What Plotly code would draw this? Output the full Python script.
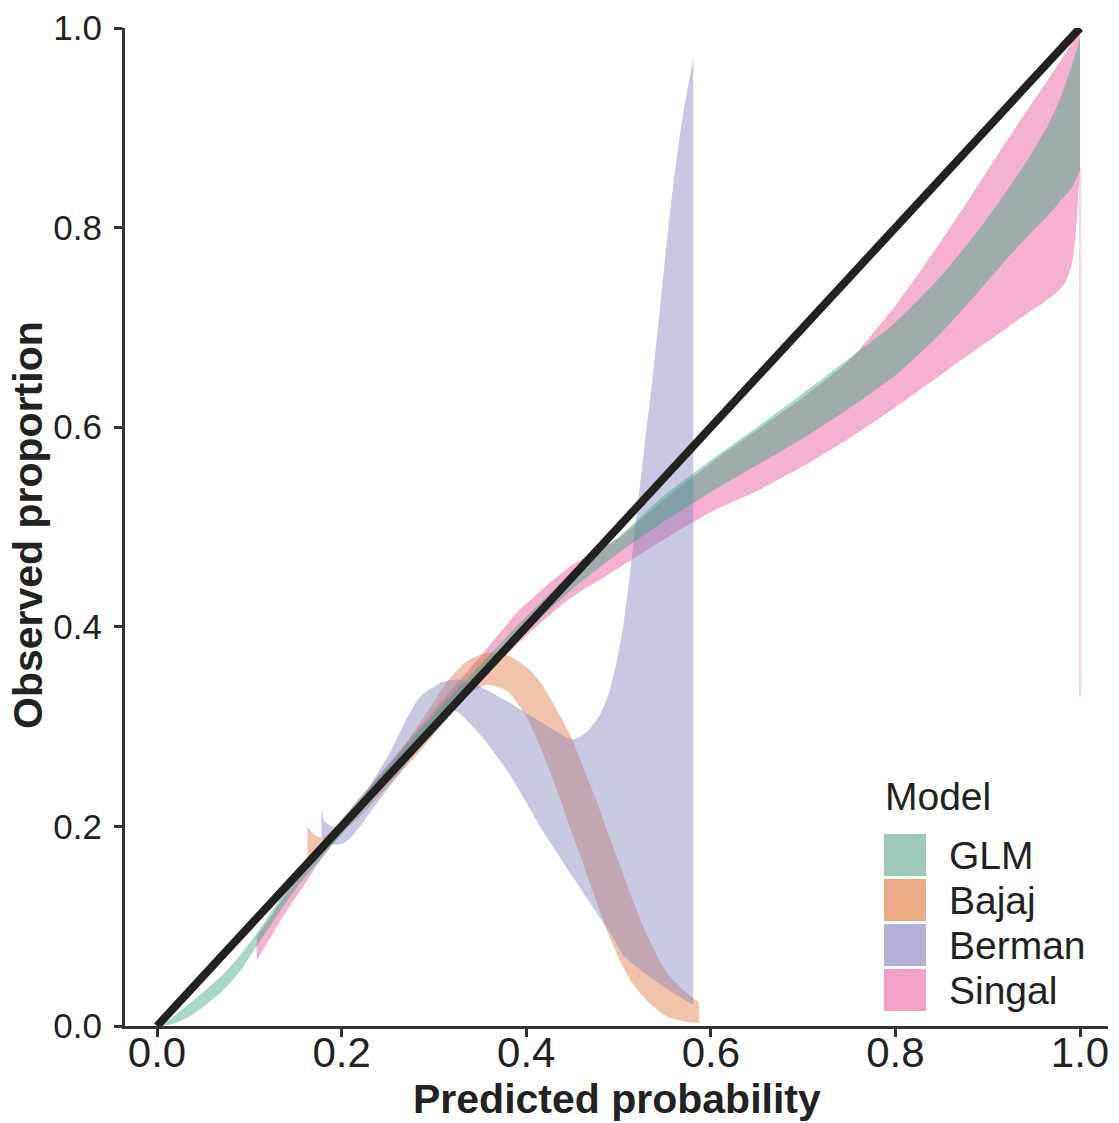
import plotly.graph_objects as go

# ---- calibration bands: predicted probability vs observed proportion ----
glm_x = [0.007, 0.02, 0.036, 0.054, 0.072, 0.09, 0.108, 0.126, 0.15, 0.2, 0.25, 0.3, 0.35, 0.4,
         0.45, 0.5, 0.55, 0.6, 0.65, 0.7, 0.75, 0.8, 0.85, 0.892, 0.92, 0.946, 0.965, 0.978, 0.991, 1.0]
glm_lo = [0.0, 0.003, 0.01, 0.022, 0.036, 0.055, 0.08, 0.105, 0.137, 0.192, 0.246, 0.297, 0.347, 0.395,
          0.438, 0.474, 0.506, 0.535, 0.562, 0.589, 0.619, 0.652, 0.695, 0.738, 0.768, 0.794, 0.812, 0.826, 0.84, 0.858]
glm_hi = [0.002, 0.011, 0.023, 0.037, 0.052, 0.071, 0.093, 0.117, 0.149, 0.206, 0.26, 0.312, 0.362, 0.41,
          0.455, 0.49, 0.532, 0.567, 0.6, 0.634, 0.669, 0.705, 0.752, 0.8, 0.836, 0.872, 0.902, 0.928, 0.962, 0.99]

bajaj_x = [0.163, 0.17, 0.178, 0.19, 0.2, 0.22, 0.25, 0.28, 0.3, 0.314, 0.335, 0.357, 0.379, 0.40,
           0.415, 0.43, 0.447, 0.458, 0.476, 0.49, 0.502, 0.515, 0.53, 0.545, 0.556, 0.575, 0.587]
bajaj_lo = [0.168, 0.172, 0.178, 0.186, 0.194, 0.21, 0.24, 0.27, 0.292, 0.308, 0.33, 0.342, 0.336, 0.31,
            0.28, 0.245, 0.2, 0.172, 0.125, 0.09, 0.065, 0.043, 0.026, 0.014, 0.008, 0.004, 0.003]
bajaj_hi = [0.200, 0.192, 0.189, 0.196, 0.205, 0.226, 0.258, 0.297, 0.325, 0.345, 0.365, 0.374, 0.372, 0.36,
            0.345, 0.322, 0.293, 0.268, 0.226, 0.19, 0.16, 0.127, 0.093, 0.065, 0.049, 0.032, 0.024]

berman_x = [0.178, 0.182, 0.19, 0.2, 0.21, 0.22, 0.234, 0.252, 0.27, 0.285, 0.307, 0.32, 0.328, 0.35,
            0.38, 0.415, 0.45, 0.465, 0.48, 0.49, 0.498, 0.505, 0.512, 0.52, 0.528, 0.537, 0.545,
            0.554, 0.563, 0.572, 0.581]
berman_lo = [0.19, 0.186, 0.182, 0.182, 0.189, 0.2, 0.218, 0.24, 0.262, 0.28, 0.305, 0.316, 0.313, 0.292,
             0.255, 0.2, 0.15, 0.129, 0.108, 0.095, 0.082, 0.071, 0.065, 0.059, 0.053, 0.047, 0.042,
             0.036, 0.031, 0.026, 0.021]
berman_hi = [0.216, 0.205, 0.200, 0.202, 0.21, 0.222, 0.246, 0.273, 0.307, 0.33, 0.344, 0.347, 0.347, 0.34,
             0.325, 0.305, 0.287, 0.294, 0.312, 0.335, 0.365, 0.4, 0.45, 0.515, 0.58, 0.65, 0.72,
             0.8, 0.87, 0.925, 0.97]

singal_x = [0.108, 0.125, 0.14, 0.16, 0.177, 0.2, 0.25, 0.3, 0.35, 0.393, 0.447, 0.502, 0.55, 0.6,
            0.65, 0.7, 0.75, 0.8, 0.85, 0.892, 0.92, 0.946, 0.965, 0.978,
            0.985, 0.991, 0.995, 0.998, 1.0]
singal_lo = [0.066, 0.092, 0.115, 0.142, 0.166, 0.195, 0.247, 0.297, 0.345, 0.385, 0.428, 0.46, 0.488, 0.515,
             0.536, 0.561, 0.589, 0.62, 0.653, 0.681, 0.699, 0.716, 0.728, 0.738,
             0.747, 0.763, 0.79, 0.83, 0.86]
singal_hi = [0.09, 0.112, 0.133, 0.158, 0.18, 0.207, 0.262, 0.316, 0.37, 0.417, 0.46, 0.49, 0.528, 0.564,
             0.597, 0.63, 0.667, 0.722, 0.787, 0.846, 0.886, 0.922, 0.948, 0.966,
             0.976, 0.985, 0.992, 0.997, 1.0]
# thin sliver of the Singal band at predicted probability 1
singal_tail_x = [1.0, 1.0]
singal_tail_y = [0.33, 0.86]

# perfect calibration reference
diag_x = [0.0, 1.0]
diag_y = [0.0, 1.0]

models = ["GLM", "Bajaj", "Berman", "Singal"]
band_fill = {
    "GLM": "rgba(44,166,122,0.42)",
    "Bajaj": "rgba(222,122,66,0.45)",
    "Berman": "rgba(133,133,188,0.45)",
    "Singal": "rgba(233,77,151,0.45)",
}
key_fill = {
    "GLM": "#9ccab6",
    "Bajaj": "#ecaa85",
    "Berman": "#b2b2d9",
    "Singal": "#f1a2c6",
}
bands = {
    "GLM": (glm_x, glm_lo, glm_hi),
    "Bajaj": (bajaj_x, bajaj_lo, bajaj_hi),
    "Berman": (berman_x, berman_lo, berman_hi),
    "Singal": (singal_x, singal_lo, singal_hi),
}

FONT = "Liberation Sans, Arial, Helvetica, sans-serif"
INK = "#222222"

fig = go.Figure()

# draw order: Singal, Bajaj, Berman, GLM (GLM ends up on top)
for name in ["Singal", "Bajaj", "Berman", "GLM"]:
    x, lo, hi = bands[name]
    fig.add_trace(go.Scatter(x=x, y=lo, mode="lines", line=dict(width=0, shape="spline", smoothing=0.6),
                             showlegend=False, hoverinfo="skip"))
    fig.add_trace(go.Scatter(x=x, y=hi, mode="lines", line=dict(width=0, shape="spline", smoothing=0.6),
                             fill="tonexty", fillcolor=band_fill[name], name=name,
                             showlegend=False, hoverinfo="skip"))
    if name == "Singal":
        fig.add_trace(go.Scatter(x=singal_tail_x, y=singal_tail_y, mode="lines",
                                 line=dict(width=2, color="rgba(233,77,151,0.25)"),
                                 showlegend=False, hoverinfo="skip"))

fig.add_trace(go.Scatter(x=diag_x, y=diag_y, mode="lines", line=dict(color=INK, width=8),
                         showlegend=False, hoverinfo="skip"))

# plot area in pixels
L, R, T, B = 125, 1108, 28, 1026
W, H = 1119, 1123


def px(xp, yp):
    return (xp - L) / (R - L), (B - yp) / (B - T)


# legend: title, square keys, labels
shapes = []
annotations = []
tx, ty = px(883, 797)
annotations.append(dict(text="Model", x=tx, y=ty, xref="paper", yref="paper", xanchor="left",
                        yanchor="middle", showarrow=False, font=dict(family=FONT, size=39, color=INK)))
for i, name in enumerate(models):
    top = 834 + 45 * i
    x0, y1 = px(884, top)
    x1, y0 = px(926, top + 42)
    shapes.append(dict(type="rect", xref="paper", yref="paper", x0=x0, x1=x1, y0=y0, y1=y1,
                       fillcolor=key_fill[name], line=dict(width=0), layer="above"))
    lx, ly = px(947, top + 21)
    annotations.append(dict(text=name, x=lx, y=ly, xref="paper", yref="paper", xanchor="left",
                            yanchor="middle", showarrow=False, font=dict(family=FONT, size=39, color=INK)))

# axis titles
ax_x, ax_y = px(617, 1099)
annotations.append(dict(text="<b>Predicted probability</b>", x=ax_x, y=ax_y, xref="paper", yref="paper",
                        xanchor="center", yanchor="middle", showarrow=False,
                        font=dict(family=FONT, size=41, color=INK)))
ay_x, ay_y = px(28, 525)
annotations.append(dict(text="<b>Observed proportion</b>", x=ay_x, y=ay_y, xref="paper", yref="paper",
                        xanchor="center", yanchor="middle", textangle=-90, showarrow=False,
                        font=dict(family=FONT, size=41, color=INK)))

tick_vals = [0.0, 0.2, 0.4, 0.6, 0.8, 1.0]
tick_text = ["0.0", "0.2", "0.4", "0.6", "0.8", "1.0"]

axis_common = dict(showgrid=False, zeroline=False, showline=True, linewidth=3, linecolor="#333333",
                   ticks="outside", ticklen=8, tickwidth=3, tickcolor="#333333",
                   tickvals=tick_vals, ticktext=tick_text, automargin=False)

fig.update_layout(
    width=W, height=H,
    margin=dict(l=L, r=W - R, t=T, b=H - B),
    paper_bgcolor="white", plot_bgcolor="white",
    xaxis=dict(range=[-0.0347, 1.0303], ticklabelstandoff=-20,
               tickfont=dict(family=FONT, size=42, color=INK), **axis_common),
    yaxis=dict(range=[0.0, 1.0], ticklabelstandoff=5,
               tickfont=dict(family=FONT, size=35, color=INK), **axis_common),
    shapes=shapes,
    annotations=annotations,
    showlegend=False,
)

fig.write_html("out.html")
